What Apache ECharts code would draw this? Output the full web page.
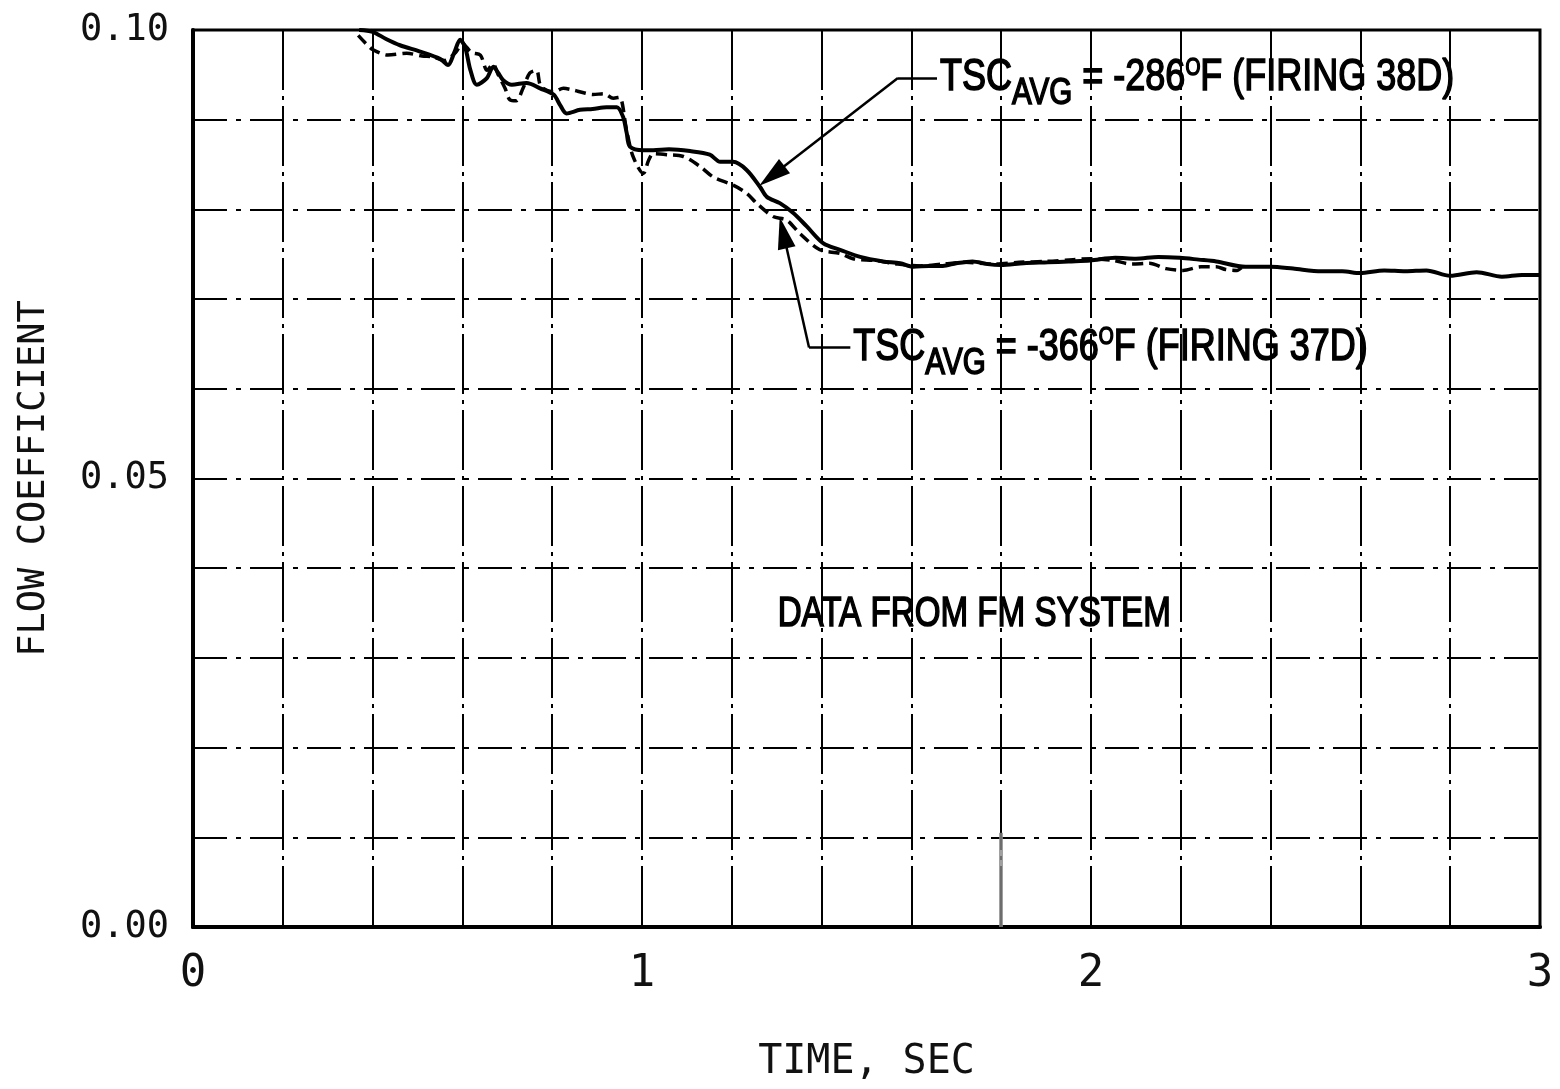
<!DOCTYPE html>
<html><head><meta charset="utf-8">
<script src="https://cdn.jsdelivr.net/npm/echarts@6/dist/echarts.min.js"></script>
<style>html,body{margin:0;padding:0;background:#fff}#c{width:1560px;height:1089px}</style>
</head><body><div id="c"></div>
<script>
// ---- data (time in s, flow coefficient) ----
const t38 = [0.37,0.40,0.43,0.461,0.506,0.550,0.568,0.582,0.595,0.606,0.618,0.632,0.654,0.669,0.680,0.691,0.710,0.743,0.773,0.803,0.818,0.832,0.862,0.890,0.921,0.944,0.958,0.966,0.973,1.003,1.025,1.06,1.107,1.151,1.174,1.203,1.233,1.263,1.278,1.307,1.337,1.367,1.404,1.441,1.486,1.537,1.575,1.604,1.64,1.670,1.70,1.736,1.77,1.799,1.85,1.904,1.95,1.998,2.054,2.10,2.15,2.198,2.24,2.279,2.344,2.400,2.45,2.513,2.56,2.599,2.653,2.70,2.747,2.800,2.859,2.915,2.96,3.00];
const v38 = [0.1000,0.0998,0.0990,0.0983,0.0976,0.0968,0.0961,0.0975,0.0989,0.0981,0.0955,0.0939,0.0946,0.0959,0.0952,0.0944,0.0939,0.0941,0.0935,0.0928,0.0916,0.0907,0.0911,0.0912,0.0914,0.0914,0.0903,0.0885,0.0870,0.0866,0.0866,0.0867,0.0865,0.0861,0.0853,0.0853,0.0844,0.0825,0.0814,0.0807,0.0796,0.0781,0.0762,0.0755,0.0747,0.0742,0.0740,0.0736,0.0737,0.0737,0.0740,0.0742,0.0739,0.0738,0.0740,0.0741,0.0742,0.0743,0.0746,0.0745,0.0747,0.0746,0.0744,0.0742,0.0736,0.0736,0.0734,0.0731,0.0731,0.0729,0.0732,0.0731,0.0732,0.0726,0.0730,0.0725,0.0727,0.0727];
const t37 = [0.368,0.385,0.401,0.434,0.476,0.510,0.535,0.560,0.585,0.600,0.620,0.640,0.655,0.668,0.680,0.695,0.706,0.720,0.735,0.750,0.765,0.775,0.803,0.825,0.847,0.870,0.891,0.915,0.936,0.950,0.965,0.980,1.003,1.015,1.025,1.055,1.092,1.129,1.159,1.203,1.233,1.255,1.292,1.322,1.352,1.396,1.441,1.470,1.520,1.570,1.620,1.670,1.720,1.780,1.840,1.900,1.960,2.000,2.050,2.091,2.130,2.167,2.205,2.245,2.279,2.300,2.325,2.335];
const v37 = [0.0994,0.0985,0.0978,0.0972,0.0974,0.0971,0.0970,0.0966,0.0975,0.0985,0.0975,0.0972,0.0955,0.0962,0.0950,0.0935,0.0922,0.0921,0.0935,0.0952,0.0955,0.0937,0.0931,0.0935,0.0933,0.0930,0.0928,0.0929,0.0924,0.0925,0.0890,0.0859,0.0840,0.0855,0.0862,0.0861,0.0859,0.0848,0.0836,0.0827,0.0818,0.0807,0.0792,0.0788,0.0773,0.0755,0.0751,0.0745,0.0743,0.0739,0.0737,0.0739,0.0741,0.0739,0.0741,0.0742,0.0744,0.0745,0.0743,0.0739,0.0740,0.0734,0.0732,0.0736,0.0736,0.0733,0.0732,0.0735];
const yTickLabels = ['0.00','0.05','0.10'];
const xTickLabels = ['0','1','2','3'];
// annotation leaders (data coords): text end -> bend -> arrow head
const leader38 = [[1.657,0.09465],[1.570,0.09465],[1.2893,0.08374]];
const leader37 = [[1.464,0.0646],[1.372,0.0646],[1.3145,0.0774]];
const label38 = ['TSC','AVG',' = -286','O','F (FIRING 38D)'];
const label37 = ['TSC','AVG',' = -366','O','F (FIRING 37D)'];
const noteText = 'DATA FROM FM SYSTEM';
const notePos = [1.74, 0.0348];

const chart = echarts.init(document.getElementById('c'), null, {renderer:'canvas'});
const pair = (ts, vs) => ts.map((t,i)=>[t,vs[i]]);
const mono = '"DejaVu Sans Mono", "Liberation Mono", monospace';

function leaderLines(L){
  return [
    [{coord:L[0],symbol:'none'},{coord:L[1],symbol:'none'}],
    [{coord:L[1],symbol:'none'},{coord:L[2],symbol:'triangle',symbolSize:[18,32]}]
  ];
}

chart.setOption({
  animation:false,
  backgroundColor:'#fff',
  grid:{left:193,right:20,top:30,bottom:162,show:true,borderColor:'#000',borderWidth:3,backgroundColor:'transparent'},
  xAxis:{type:'value',min:0,max:3,interval:0.2,
    name:'TIME, SEC',nameLocation:'middle',nameGap:116,
    nameTextStyle:{fontFamily:mono,fontSize:40,color:'#111'},
    axisLine:{lineStyle:{color:'#000',width:4}},
    axisTick:{show:false},
    axisLabel:{margin:26,fontFamily:mono,fontSize:44,color:'#111',
      formatter:v=>{const r=Math.round(v);return Math.abs(v-r)<1e-6?xTickLabels[r]:'';}},
    splitLine:{show:true,lineStyle:{color:'#000',width:2,type:[60,6,4,6]}}
  },
  yAxis:{type:'value',min:0,max:0.1,interval:0.01,
    name:'FLOW COEFFICIENT',nameLocation:'middle',nameGap:140,nameRotate:90,
    nameTextStyle:{fontFamily:mono,fontSize:37,color:'#111'},
    axisLine:{lineStyle:{color:'#000',width:4}},
    axisTick:{show:false},
    axisLabel:{margin:24,fontFamily:mono,fontSize:37,color:'#111',
      formatter:v=>{const k=v*20;const r=Math.round(k);return Math.abs(k-r)<1e-6?yTickLabels[r]:'';}},
    splitLine:{show:true,lineStyle:{color:'#000',width:2,type:[34,9,5,9]}}
  },
  series:[
    {name:'38D',type:'line',data:pair(t38,v38),showSymbol:false,smooth:0.3,
      lineStyle:{color:'#000',width:4},z:5,
      markLine:{silent:true,animation:false,label:{show:false},
        lineStyle:{color:'#000',width:2.5,type:'solid'},
        data:[...leaderLines(leader38),...leaderLines(leader37)]}},
    {name:'37D',type:'line',data:pair(t37,v37),showSymbol:false,smooth:0.3,
      lineStyle:{color:'#000',width:3.5,type:[11,6]},z:4,
      markLine:{silent:true,animation:false,symbol:'none',label:{show:false},
        lineStyle:{color:'#888',width:4,type:'solid',opacity:0.8},
        data:[[{coord:[1.8,0]},{coord:[1.8,0.0105]}]]}}
  ]
});

// ---- text annotations anchored in data space ----
const ctx = document.createElement('canvas').getContext('2d');
const sans = (s)=>`${s}px "Liberation Sans", Arial, sans-serif`;
function tscLabel(anchor, parts){
  const p = chart.convertToPixel({gridIndex:0}, anchor);
  const spec = [
    {size:45, dy:0},
    {size:37, dy:16},
    {size:45, dy:0},
    {size:24, dy:-10},
    {size:45, dy:0}
  ];
  let x = 0; const children = [];
  parts.forEach((txt,i)=>{
    const f = sans(spec[i].size); ctx.font = f;
    children.push({type:'text',x:x,y:spec[i].dy,style:{text:txt,font:f,fill:'#000',stroke:'#000',lineWidth:1.6,verticalAlign:'middle',align:'left'}});
    x += ctx.measureText(txt).width;
  });
  return {type:'group',x:p[0]+3,y:p[1],scaleX:0.8,children};
}
const np = chart.convertToPixel({gridIndex:0}, notePos);
chart.setOption({graphic:[
  tscLabel(leader38[0], label38),
  tscLabel(leader37[0], label37),
  {type:'text',x:np[0],y:np[1],scaleX:0.79,
    style:{text:noteText,font:sans(42),fill:'#000',stroke:'#000',lineWidth:1.6,align:'center',verticalAlign:'middle'}}
]});
</script></body></html>
